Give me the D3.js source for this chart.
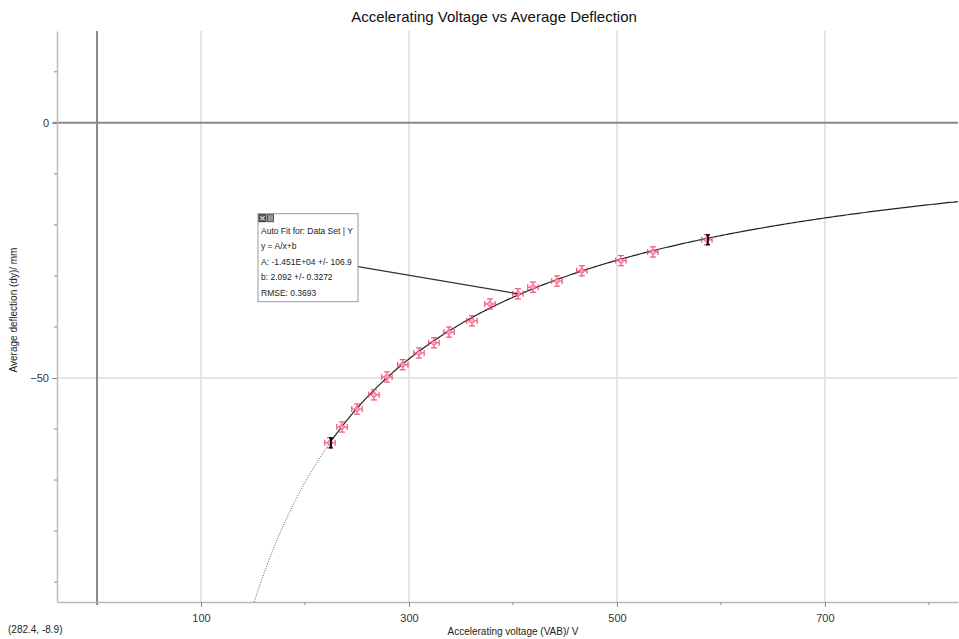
<!DOCTYPE html>
<html>
<head>
<meta charset="utf-8">
<script src="https://cdn.jsdelivr.net/npm/d3@7"></script>
<style>
  body { margin: 0; background: #fff; }
  svg { font-family: "Liberation Sans", Arial, sans-serif; }
</style>
</head>
<body>
<div id="chart"></div>
<script>
var width = 959,
    height = 639,
    margin = {top: 31, right: 1, bottom: 37, left: 57};

// measured points (voltage / V, deflection / mm)
var voltage = [224, 235.6, 250, 266.3, 278.8, 294, 309.6, 324, 338.5, 360.6, 377.9, 404.8, 419.2, 442.3, 466.3, 503.8, 534.6, 586.5];
var deflection = [-62.7, -59.6, -56.1, -53.3, -49.8, -47.4, -45.1, -43.1, -41.0, -38.8, -35.5, -33.5, -32.2, -31.0, -29.0, -27.0, -25.3, -22.9];
var xErr = 5, yErr = 1;

// fit result y = A/x + b
var fitA = -1.451e4, fitB = 2.092;
var fitLines = ["Auto Fit for: Data Set | Y", "y = A/x+b", "A: -1.451E+04 +/- 106.9", "b: 2.092 +/- 0.3272", "RMSE: 0.3693"];

var xLabelTicks = [100, 300, 500, 700];
var xMinorTicks = [0, 200, 400, 600, 800];
var yLabelTicks = [0, -50];
var yMinorTicks = [10, -10, -20, -30, -40, -60, -70, -80, -90];

var data = voltage.map(function(v, i) { return {x: v, y: deflection[i]}; });

var svg = d3.select("#chart").append("svg")
  .attr("width", width)
  .attr("height", height);

var x = d3.scaleLinear().domain([-38.5, 828]).range([margin.left, width - margin.right]);
var y = d3.scaleLinear().domain([-93.9, 18]).range([height - margin.bottom, margin.top]);

var plot = svg.append("g");

svg.append("clipPath").attr("id", "clip")
  .append("rect")
  .attr("x", margin.left).attr("y", margin.top)
  .attr("width", width - margin.left - margin.right)
  .attr("height", height - margin.top - margin.bottom);

// grid
plot.selectAll(".vgrid").data(xLabelTicks).enter().append("line")
  .attr("x1", function(d){ return x(d); }).attr("x2", function(d){ return x(d); })
  .attr("y1", margin.top).attr("y2", height - margin.bottom)
  .style("stroke", "#dcdcdc").style("stroke-width", 1.5);

plot.selectAll(".hgrid").data([-50]).enter().append("line")
  .attr("x1", margin.left).attr("x2", width - margin.right)
  .attr("y1", function(d){ return y(d); }).attr("y2", function(d){ return y(d); })
  .style("stroke", "#dcdcdc").style("stroke-width", 1.5);

// zero lines
plot.append("line")
  .attr("x1", x(0)).attr("x2", x(0))
  .attr("y1", margin.top).attr("y2", height - margin.bottom + 3)
  .style("stroke", "#888").style("stroke-width", 2);
plot.append("line")
  .attr("x1", margin.left - 4).attr("x2", width - margin.right)
  .attr("y1", y(0)).attr("y2", y(0))
  .style("stroke", "#888").style("stroke-width", 2);

// axes
var xAxis = d3.axisBottom(x).tickValues(xLabelTicks).tickSize(5).tickSizeOuter(0);
var gx = svg.append("g")
  .attr("transform", "translate(0," + (height - margin.bottom) + ")")
  .call(xAxis);
gx.selectAll(".minor").data(xMinorTicks).enter().append("line")
  .attr("x1", function(d){ return x(d); }).attr("x2", function(d){ return x(d); })
  .attr("y1", 0).attr("y2", 3)
  .style("stroke", "#888");

var yAxis = d3.axisLeft(y).tickValues(yLabelTicks).tickSize(5).tickSizeOuter(0);
var gy = svg.append("g")
  .attr("transform", "translate(" + margin.left + ",0)")
  .call(yAxis);
gy.selectAll(".minor").data(yMinorTicks).enter().append("line")
  .attr("x1", -3).attr("x2", 0)
  .attr("y1", function(d){ return y(d); }).attr("y2", function(d){ return y(d); })
  .style("stroke", "#888");

[gx, gy].forEach(function(g) {
  g.select(".domain").style("stroke", "#bbb").style("stroke-width", 1.5);
  g.selectAll(".tick line").style("stroke", "#888");
  g.selectAll(".tick text").style("font-size", "11px").style("fill", "#333");
});
gx.selectAll(".tick text").attr("dy", "1.1em");

// fit curve: dotted extrapolation below first point, solid over data and beyond
var xFirst = d3.min(voltage);
var yBottom = y.domain()[0];
var xStart = fitA / (yBottom - fitB);
var curve = d3.line()
  .x(function(d){ return x(d); })
  .y(function(d){ return y(fitA / d + fitB); });

var extraX = d3.range(xStart, xFirst, 1).concat([xFirst]);
var fitX = d3.range(xFirst, x.domain()[1], 2).concat([x.domain()[1]]);

var cg = svg.append("g").attr("clip-path", "url(#clip)");
cg.append("path")
  .attr("d", curve(extraX))
  .style("fill", "none").style("stroke", "#555")
  .style("stroke-width", 1).style("stroke-dasharray", "1,1.5");
cg.append("path")
  .attr("d", curve(fitX))
  .style("fill", "none").style("stroke", "#222").style("stroke-width", 1.2);

// error bars + markers
var red = "#f4406a";
var pts = svg.append("g").attr("opacity", 0.9).selectAll("g").data(data).enter().append("g");
pts.append("line")
  .attr("x1", function(d){ return x(d.x - xErr); }).attr("x2", function(d){ return x(d.x + xErr); })
  .attr("y1", function(d){ return y(d.y); }).attr("y2", function(d){ return y(d.y); })
  .style("stroke", red).style("stroke-width", 1.2);
pts.append("line")
  .attr("x1", function(d){ return x(d.x); }).attr("x2", function(d){ return x(d.x); })
  .attr("y1", function(d){ return y(d.y - yErr); }).attr("y2", function(d){ return y(d.y + yErr); })
  .style("stroke", red).style("stroke-width", 1.2);
pts.each(function(d) {
  var g = d3.select(this);
  [d.x - xErr, d.x + xErr].forEach(function(v) {
    g.append("line")
      .attr("x1", x(v)).attr("x2", x(v))
      .attr("y1", y(d.y) - 3).attr("y2", y(d.y) + 3)
      .style("stroke", red).style("stroke-width", 1.2);
  });
  [d.y - yErr, d.y + yErr].forEach(function(v) {
    g.append("line")
      .attr("x1", x(d.x) - 3).attr("x2", x(d.x) + 3)
      .attr("y1", y(v)).attr("y2", y(v))
      .style("stroke", red).style("stroke-width", 1.2);
  });
});
pts.append("circle")
  .attr("cx", function(d){ return x(d.x); })
  .attr("cy", function(d){ return y(d.y); })
  .attr("r", 2.4)
  .style("fill", "#fba3b8").style("stroke", red).style("stroke-width", 0.8);

// range brackets at first and last point
var ends = [data[0], data[data.length - 1]];
var br = svg.append("g").selectAll("g").data(ends).enter().append("g");
br.append("line")
  .attr("x1", function(d){ return x(d.x) + 1; }).attr("x2", function(d){ return x(d.x) + 1; })
  .attr("y1", function(d){ return y(d.y) - 5; }).attr("y2", function(d){ return y(d.y) + 5; })
  .style("stroke", "#111").style("stroke-width", 2);
br.append("line")
  .attr("x1", function(d){ return x(d.x) - 1; }).attr("x2", function(d){ return x(d.x) + 3; })
  .attr("y1", function(d){ return y(d.y) - 5; }).attr("y2", function(d){ return y(d.y) - 5; })
  .style("stroke", "#111").style("stroke-width", 1.5);
br.append("line")
  .attr("x1", function(d){ return x(d.x) - 1; }).attr("x2", function(d){ return x(d.x) + 3; })
  .attr("y1", function(d){ return y(d.y) + 5; }).attr("y2", function(d){ return y(d.y) + 5; })
  .style("stroke", "#111").style("stroke-width", 1.5);

// fit info box, anchored in data space
var boxV = 154.8, boxD = -17.8, boxW = 100, boxH = 88;
var bx = x(boxV), by = y(boxD);
var target = data[11];
svg.append("line")
  .attr("x1", bx + boxW).attr("y1", by + 53)
  .attr("x2", x(target.x)).attr("y2", y(target.y))
  .style("stroke", "#333").style("stroke-width", 1.2);

var box = svg.append("g").attr("transform", "translate(" + bx + "," + by + ")");
box.append("rect")
  .attr("width", boxW).attr("height", boxH)
  .style("fill", "#fff").style("stroke", "#999").style("stroke-width", 1);
box.append("rect").attr("x", 1).attr("y", 1).attr("width", 7).attr("height", 7)
  .style("fill", "#666").style("stroke", "#333");
box.append("path").attr("d", "M2.5,2.5L6.5,6.5M6.5,2.5L2.5,6.5").style("stroke", "#fff");
box.append("rect").attr("x", 9.5).attr("y", 1).attr("width", 6).attr("height", 7)
  .style("fill", "#999").style("stroke", "#555");
box.selectAll("text.fit").data(fitLines).enter().append("text")
  .attr("x", 3)
  .attr("y", function(d, i){ return 20 + i * 15.5; })
  .style("font-size", "8.5px").style("fill", "#222")
  .text(function(d){ return d; });

// titles
svg.append("text")
  .attr("x", 494).attr("y", 22)
  .attr("text-anchor", "middle")
  .style("font-size", "15px").style("fill", "#111")
  .text("Accelerating Voltage vs Average Deflection");

svg.append("text")
  .attr("x", 513).attr("y", 635)
  .attr("text-anchor", "middle")
  .style("font-size", "10px").style("fill", "#222")
  .text("Accelerating voltage (VAB)/ V");

svg.append("text")
  .attr("transform", "translate(17,310) rotate(-90)")
  .attr("text-anchor", "middle")
  .style("font-size", "10px").style("fill", "#222")
  .text("Average deflection (dy)/ mm");

svg.append("text")
  .attr("x", 8).attr("y", 633)
  .style("font-size", "10px").style("fill", "#222")
  .text("(282.4, -8.9)");
</script>
</body>
</html>
